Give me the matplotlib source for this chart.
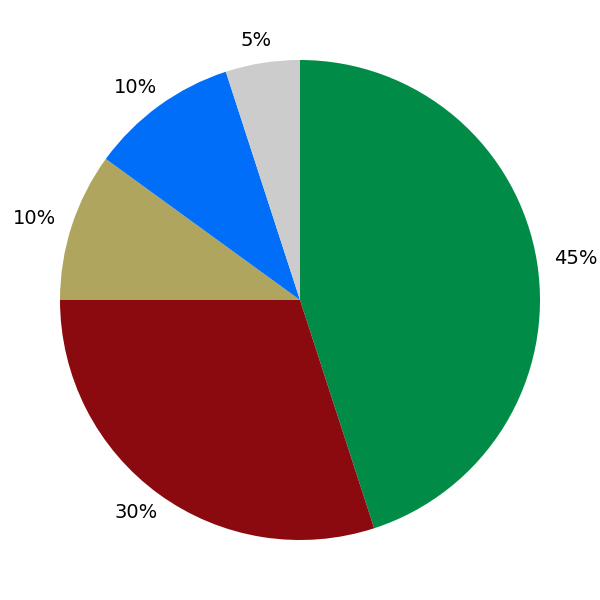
import matplotlib.pyplot as plt

shares = [45, 30, 10, 10, 5]
slice_colors = ['#008C46', '#8B0A10', '#B0A55F', '#006EF8', '#CCCCCC']

fig = plt.figure(figsize=(6, 6), dpi=100)
ax = fig.add_axes([0, 0, 1, 1])
wedges, texts, pct_texts = ax.pie(shares, colors=slice_colors, startangle=90,
                                  counterclock=False, autopct='%d%%',
                                  pctdistance=1.13,
                                  textprops={'fontsize': 14, 'color': 'black'})
# labels sit a little wider than tall in the original
for t in pct_texts:
    x, y = t.get_position()
    t.set_position((x * 1.03, y * 0.97))
ax.set_xlim(-1.25, 1.25)
ax.set_ylim(-1.25, 1.25)
ax.set_aspect('equal')
fig.savefig('out.png')
